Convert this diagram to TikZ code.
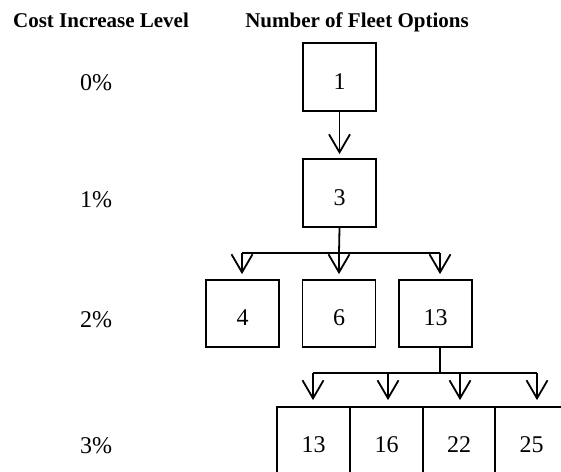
\documentclass[tikz,border=0pt]{standalone}
\usepackage{fontspec}
\setmainfont{Liberation Serif}
\usetikzlibrary{arrows.meta}
\tikzset{
  box/.style={draw, line width=1.8pt, minimum width=73pt, minimum height=68pt, inner sep=0pt,
    text height=24pt, text depth=0pt, font=\fontsize{24}{28}\selectfont},
  cell/.style={box, minimum height=67pt},
  lvl/.style={anchor=base, font=\fontsize{24}{28}\selectfont},
  hdr/.style={anchor=base, font=\fontsize{21}{24}\selectfont\bfseries},
  conn/.style={line width=1.8pt},
  arr/.style={conn, -{Straight Barb[length=18pt,width=21pt]}}
}
\begin{document}
\begin{tikzpicture}[x=1pt,y=-1pt]
\useasboundingbox (0,0) rectangle (561,471);
\clip (0,0) rectangle (561,471);
% headers
\node[hdr] (h1) at (101,27) {Cost Increase Level};
\node[hdr] (h2) at (357,27) {Number of Fleet Options};
% level labels
\node[lvl] (l0) at (96,90) {0\%};
\node[lvl] (l1) at (96,207) {1\%};
\node[lvl] (l2) at (96,327) {2\%};
\node[lvl] (l3) at (96,453) {3\%};
% boxes
\node[box] (b1) at (339.5,77) {1};
\node[box] (b3) at (339.5,193) {3};
\node[box,minimum height=67pt] (b4) at (242.5,313.5) {4};
\node[box,minimum height=67pt] (b6) at (339,313.5) {6};
\node[box,minimum height=67pt] (b13) at (435.5,313.5) {13};
\node[cell] (c13) at (313.5,440.5) {13};
\node[cell] (c16) at (386.5,440.5) {16};
\node[cell] (c22) at (459,440.5) {22};
\node[cell] (c25) at (531.5,440.5) {25};
% connectors
\draw[arr, shorten >=4pt] (b1) -- (b3);
\coordinate (j1) at (339,253);
\coordinate (j1l) at (242,253);
\coordinate (j1r) at (440,253);
\draw[conn] (b3.south) -- (j1);
\draw[conn] (j1l) -- (j1r);
\draw[arr, shorten >=5pt] (j1l) -- (j1l |- b4.north);
\draw[arr, shorten >=5pt] (j1) -- (j1 |- b6.north);
\draw[arr, shorten >=5pt] (j1r) -- (j1r |- b13.north);
\coordinate (j2) at (440,373);
\coordinate (j2a) at (313,373);
\coordinate (j2b) at (388,373);
\coordinate (j2c) at (460,373);
\coordinate (j2d) at (537,373);
\draw[conn] (j2 |- b13.south) -- (j2);
\draw[conn] (j2a) -- (j2d);
\draw[arr, shorten >=6pt] (j2a) -- (j2a |- c13.north);
\draw[arr, shorten >=6pt] (j2b) -- (j2b |- c16.north);
\draw[arr, shorten >=6pt] (j2c) -- (j2c |- c22.north);
\draw[arr, shorten >=6pt] (j2d) -- (j2d |- c25.north);
\end{tikzpicture}
\end{document}
